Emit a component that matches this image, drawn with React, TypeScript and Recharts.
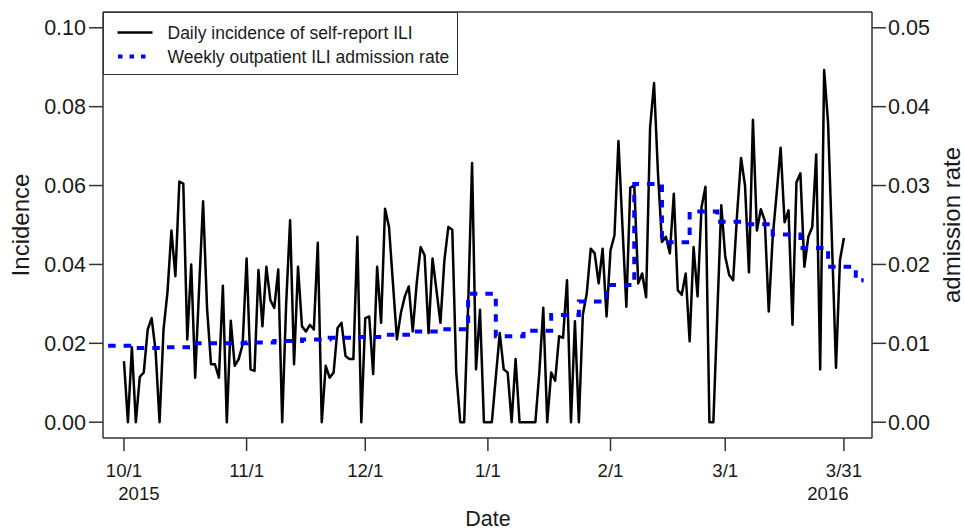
import React from 'react';
import { LineChart, Line, XAxis, YAxis, ReferenceLine, Legend } from 'recharts';

const FONT = '"Liberation Sans", Arial, Helvetica, sans-serif';

// Daily incidence of self-report ILI, 10/1/2015 (day 0) .. 3/31/2016 (day 182)
const incidence = [
  0.0155, 0, 0.019, 0, 0.0115, 0.0126, 0.0235, 0.0264, 0.018, 0,
  0.0235, 0.033, 0.0486, 0.037, 0.061, 0.0605, 0.021, 0.04, 0.0113, 0.034,
  0.056, 0.029, 0.0147, 0.0147, 0.0113, 0.0346, 0, 0.0257, 0.0143, 0.016,
  0.0197, 0.0415, 0.0134, 0.013, 0.0386, 0.0243, 0.0394, 0.031, 0.029, 0.0387,
  0, 0.03, 0.0512, 0.0147, 0.0394, 0.0243, 0.023, 0.0247, 0.0235, 0.0455,
  0, 0.0143, 0.0113, 0.0126, 0.0239, 0.0252, 0.0168, 0.016, 0.016, 0.047,
  0, 0.0264, 0.0268, 0.0122, 0.0394, 0.0252, 0.0541, 0.0495, 0.0352, 0.021,
  0.0277, 0.0319, 0.0344, 0.023, 0.0352, 0.0444, 0.0423, 0.0226, 0.0415, 0.0335,
  0.0252, 0.041, 0.0495, 0.0488, 0.0126, 0, 0, 0.0293, 0.0657, 0.0134,
  0.0285, 0, 0, 0, 0.0114, 0.0226, 0.0134, 0.0126, 0, 0.016,
  0, 0, 0, 0, 0, 0.0126, 0.029, 0, 0.0126, 0.0105,
  0.0218, 0.0214, 0.036, 0, 0.0256, 0, 0.0273, 0.0327, 0.044, 0.0428,
  0.0352, 0.044, 0.0268, 0.0436, 0.0474, 0.0713, 0.05, 0.0293, 0.0595, 0.06,
  0.0352, 0.0377, 0.0317, 0.0746, 0.086, 0.063, 0.0457, 0.047, 0.0428, 0.0579,
  0.0335, 0.0323, 0.0377, 0.0205, 0.0444, 0.0319, 0.0545, 0.0597, 0, 0,
  0.0277, 0.055, 0.042, 0.0373, 0.036, 0.0528, 0.067, 0.06, 0.038, 0.0767,
  0.0486, 0.054, 0.0511, 0.0281, 0.047, 0.058, 0.0696, 0.0507, 0.0537, 0.0247,
  0.0608, 0.0631, 0.0394, 0.047, 0.0495, 0.0679, 0.0134, 0.0893, 0.0759, 0.045,
  0.0138, 0.0411, 0.0467,
];

// Weekly outpatient ILI admission rate (right axis), one value per week
const weeklyRate = [
  0.0097, 0.0094, 0.0095, 0.01, 0.01, 0.0101, 0.0103, 0.0105, 0.0107, 0.0108,
  0.0111, 0.0115, 0.0118, 0.0163, 0.0109, 0.0116, 0.0136, 0.0153, 0.0174, 0.0302,
  0.0228, 0.0267, 0.0254, 0.0251, 0.0238, 0.0221, 0.0197, 0.018,
];

const tickDays = [0, 31, 61, 92, 123, 152, 182];
const tickLabels = ['10/1', '11/1', '12/1', '1/1', '2/1', '3/1', '3/31'];
const yearLabels = ['2015', '', '', '', '', '', '2016'];
const leftTicks = [0, 0.02, 0.04, 0.06, 0.08, 0.1];
const rightTicks = [0, 0.01, 0.02, 0.03, 0.04, 0.05];
const seriesNames = ['Daily incidence of self-report ILI', 'Weekly outpatient ILI admission rate'];

const WEEK_START = -4;
const LAST_DAY = 187;

const data: any[] = [];
for (let d = WEEK_START; d <= LAST_DAY; d++) {
  data.push({
    day: d,
    incidence: d >= 0 && d < incidence.length ? incidence[d] : null,
    rate: weeklyRate[Math.floor((d - WEEK_START) / 7)],
  });
}

function XTick(props: any) {
  const { x, payload } = props;
  const i = tickDays.indexOf(payload.value);
  const year = yearLabels[i];
  const yearDx = i === 0 ? 15 : -16;
  return (
    <g>
      <text x={x} y={477} textAnchor="middle" fontSize={18.6} fontFamily={FONT} fill="#1a1a1a">
        {tickLabels[i]}
      </text>
      {year ? (
        <text x={x + yearDx} y={500} textAnchor="middle" fontSize={18.6} fontFamily={FONT} fill="#1a1a1a">
          {year}
        </text>
      ) : null}
    </g>
  );
}

function DateTitle() {
  return (
    <text x={488} y={526} textAnchor="middle" fontSize={21.5} fontFamily={FONT} fill="#1a1a1a">
      Date
    </text>
  );
}

function LeftTitle() {
  return (
    <text transform="translate(28.5,225) rotate(-90)" textAnchor="middle" fontSize={24} fontFamily={FONT} fill="#1a1a1a">
      Incidence
    </text>
  );
}

function RightTitle() {
  return (
    <text transform="translate(960,225) rotate(-90)" textAnchor="middle" fontSize={24} fontFamily={FONT} fill="#1a1a1a">
      admission rate
    </text>
  );
}

function LegendBox() {
  return (
    <div
      style={{
        width: 355,
        height: 63,
        border: '1.5px solid #333',
        boxSizing: 'border-box',
        background: '#fff',
      }}
    >
      <svg width={352} height={60} style={{ display: 'block' }}>
        <line x1={13.5} x2={48.5} y1={19.5} y2={19.5} stroke="#000" strokeWidth={2.6} />
        <text x={63.5} y={19.5} dy="0.35em" fontSize={17.5} fontFamily={FONT} fill="#1a1a1a">
          {seriesNames[0]}
        </text>
        <line
          x1={14}
          x2={43}
          y1={43.5}
          y2={43.5}
          stroke="#0000ff"
          strokeWidth={4}
          strokeDasharray="4.5 7"
        />
        <text x={63.5} y={43.5} dy="0.35em" fontSize={17.5} fontFamily={FONT} fill="#1a1a1a">
          {seriesNames[1]}
        </text>
      </svg>
    </div>
  );
}

const fmt = (v: number) => v.toFixed(2);

export default function App() {
  return (
    <div style={{ position: 'absolute', left: 0, top: 0, width: 964, height: 532, background: '#fff' }}>
      <LineChart width={964} height={532} data={data} margin={{ top: 12, right: 0, bottom: 0, left: 0 }}>
        <XAxis
          dataKey="day"
          type="number"
          domain={[-5.3, 189.1]}
          allowDataOverflow
          ticks={tickDays}
          interval={0}
          height={94}
          tickSize={13}
          tick={<XTick />}
          axisLine={{ stroke: '#333', strokeWidth: 1.5 }}
          tickLine={{ stroke: '#333', strokeWidth: 1.5 }}
          label={<DateTitle />}
        />
        <YAxis
          yAxisId="left"
          orientation="left"
          width={103}
          domain={[-0.004, 0.104]}
          ticks={leftTicks}
          interval={0}
          tickFormatter={fmt}
          tickSize={14}
          tickMargin={3}
          tick={{ fontSize: 21.5, fill: '#1a1a1a', fontFamily: FONT }}
          axisLine={{ stroke: '#333', strokeWidth: 1.5 }}
          tickLine={{ stroke: '#333', strokeWidth: 1.5 }}
          label={<LeftTitle />}
        />
        <YAxis
          yAxisId="right"
          orientation="right"
          width={92}
          domain={[-0.002, 0.052]}
          ticks={rightTicks}
          interval={0}
          tickFormatter={fmt}
          tickSize={14}
          tickMargin={2}
          tick={{ fontSize: 21.5, fill: '#1a1a1a', fontFamily: FONT }}
          axisLine={{ stroke: '#333', strokeWidth: 1.5 }}
          tickLine={{ stroke: '#333', strokeWidth: 1.5 }}
          label={<RightTitle />}
        />
        <ReferenceLine yAxisId="left" y={0.104} stroke="#333" strokeWidth={1.5} />
        <Line
          yAxisId="left"
          dataKey="incidence"
          type="linear"
          stroke="#000"
          strokeWidth={2.5}
          strokeLinejoin="round"
          dot={false}
          activeDot={false}
          isAnimationActive={false}
        />
        <Line
          yAxisId="right"
          dataKey="rate"
          type="stepAfter"
          stroke="#0000ff"
          strokeWidth={4}
          strokeDasharray="7.5 8"
          dot={false}
          activeDot={false}
          isAnimationActive={false}
        />
        <Legend
          layout="horizontal"
          verticalAlign="middle"
          align="center"
          content={<LegendBox />}
          wrapperStyle={{ position: 'absolute', left: 103, top: 12, width: 355, height: 63 }}
        />
      </LineChart>
    </div>
  );
}
